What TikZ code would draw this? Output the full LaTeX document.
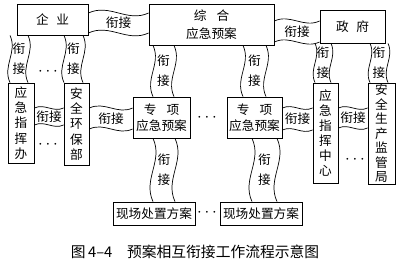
\documentclass[tikz,border=0pt]{standalone}
\usepackage{fontspec}
\setmainfont{Noto Sans CJK SC}
\tikzset{
  box/.style={draw, line width=0.6pt, inner sep=0pt, align=center,
    font=\fontsize{9}{11.5}\selectfont},
  tallbox/.style={box, font=\fontsize{9}{10.8}\selectfont},
  band/.style={line width=0.5pt},
  lbl/.style={inner sep=0pt, align=center, font=\fontsize{9}{14}\selectfont},
  dotsnode/.style={font=\large},
}
% horizontal band: from node, to node, top y, bottom y
\newcommand\hlink[4]{%
  \pgfmathsetmacro\bandmid{(#3+#4)/2}
  \draw[band] (#1.east |- 0,#3) to[out=25,in=205] (#2.west |- 0,#3);
  \draw[band] (#1.east |- 0,#4) to[out=25,in=205] (#2.west |- 0,#4);
  \path (#1.east |- 0,\bandmid) -- node[lbl]{衔接} (#2.west |- 0,\bandmid);
}
% vertical band: from node, to node, left x, right x
\newcommand\vlink[4]{%
  \pgfmathsetmacro\bandmid{(#3+#4)/2}
  \draw[band] (#1.south -| #3,0) to[out=-65,in=115] (#2.north -| #3,0);
  \draw[band] (#1.south -| #4,0) to[out=-65,in=115] (#2.north -| #4,0);
  \path (#1.south -| \bandmid,0) -- node[lbl]{衔\\接} (#2.north -| \bandmid,0);
}
\begin{document}
\begin{tikzpicture}[x=0.025cm, y=-0.025cm]
  \useasboundingbox (0,0) rectangle (400,268);
  % top row
  \node[box, minimum width=71*0.025cm, minimum height=31*0.025cm] (qiye) at (52.5,19.5) {企\hspace{0.6em}业};
  \node[box, minimum width=125*0.025cm, minimum height=41*0.025cm, font=\fontsize{9}{13}\selectfont] (zonghe) at (211.5,24.5) {综\hspace{0.8em}合\\应急预案};
  \node[box, minimum width=65*0.025cm, minimum height=33*0.025cm] (zhengfu) at (352.5,26.5) {政\hspace{0.6em}府};
  % middle row
  \node[tallbox, minimum width=26*0.025cm, minimum height=80*0.025cm] (zhihuiban) at (21,123) {应\\急\\指\\挥\\办};
  \node[tallbox, minimum width=25*0.025cm, minimum height=82*0.025cm] (huanbao) at (76.5,124) {安\\全\\环\\保\\部};
  \node[box, minimum width=57*0.025cm, minimum height=41*0.025cm] (zxA) at (161.5,117.5) {专\hspace{0.8em}项\\应急预案};
  \node[box, minimum width=55*0.025cm, minimum height=41*0.025cm] (zxB) at (254.5,117.5) {专\hspace{0.8em}项\\应急预案};
  \node[tallbox, minimum width=25*0.025cm, minimum height=100*0.025cm] (zhongxin) at (325.5,133) {应\\急\\指\\挥\\中\\心};
  \node[tallbox, minimum width=27*0.025cm, minimum height=101*0.025cm, font=\fontsize{9}{10.3}\selectfont] (jianguan) at (381.5,133.5) {安\\全\\生\\产\\监\\管\\局};
  % bottom row
  \node[box, minimum width=82*0.025cm, minimum height=23*0.025cm] (xcA) at (154,213.5) {现场处置方案};
  \node[box, minimum width=82*0.025cm, minimum height=23*0.025cm] (xcB) at (261,213.5) {现场处置方案};
  % dots
  \node[dotsnode] (dotsA) at (48,72) {$\cdots$};
  \node[dotsnode] (dotsB) at (48,145) {$\cdots$};
  \node[dotsnode] (dotsC) at (207,118) {$\cdots$};
  \node[dotsnode] (dotsD) at (355,160) {$\cdots$};
  \node[dotsnode] (dotsE) at (207,213) {$\cdots$};
  % bands
  \hlink{qiye}{zonghe}{13}{33}
  \hlink{zonghe}{zhengfu}{21}{42}
  \hlink{zhihuiban}{huanbao}{108}{125}
  \hlink{huanbao}{zxA}{108}{129}
  \hlink{zxB}{zhongxin}{108}{130}
  \hlink{zhongxin}{jianguan}{108}{128}
  \vlink{qiye}{zhihuiban}{10}{28}
  \vlink{qiye}{huanbao}{64}{83}
  \vlink{zonghe}{zxA}{153}{174}
  \vlink{zonghe}{zxB}{243}{266}
  \vlink{zhengfu}{zhongxin}{315}{331}
  \vlink{zhengfu}{jianguan}{370}{388}
  \vlink{zxA}{xcA}{153}{175}
  \vlink{zxB}{xcB}{252}{277}
  % caption
  \node[font=\fontsize{10.5}{12}\selectfont] (caption) at (195,252) {图\,4–4\quad 预案相互衔接工作流程示意图};
\end{tikzpicture}
\end{document}
